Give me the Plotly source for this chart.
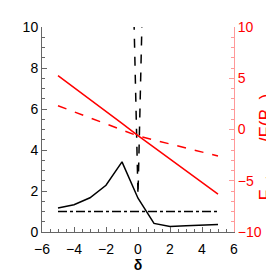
import plotly.graph_objects as go

delta = [-5, -4, -3, -2, -1, 0, 1, 2, 3, 4, 5]
black_solid = [1.17, 1.33, 1.67, 2.28, 3.42, 1.65, 0.42, 0.27, 0.30, 0.33, 0.37]
black_dashdot = [1.0] * 11
v_delta = [-0.25, 0.0, 0.25]
v_values = [10.3, 1.8, 10.3]
red_solid = [5.25, 4.1, 2.95, 1.8, 0.6, -0.6, -1.75, -2.9, -4.05, -5.2, -6.3]
red_dashed = [2.32, 1.73, 1.13, 0.53, -0.05, -0.63, -1.02, -1.41, -1.8, -2.2, -2.59]

x_ticks = [-6, -4, -2, 0, 2, 4, 6]
y_ticks = [0, 2, 4, 6, 8, 10]
y2_ticks = [-10, -5, 0, 5, 10]

fig = go.Figure()
fig.add_trace(go.Scatter(x=delta, y=black_solid, mode="lines",
                         line=dict(color="black", width=1.5)))
fig.add_trace(go.Scatter(x=delta, y=black_dashdot, mode="lines",
                         line=dict(color="black", width=1.5, dash="dashdot")))
fig.add_trace(go.Scatter(x=v_delta, y=v_values, mode="lines",
                         line=dict(color="black", width=1.5, dash="dash")))
fig.add_trace(go.Scatter(x=delta, y=red_solid, mode="lines", yaxis="y2",
                         line=dict(color="red", width=1.5)))
fig.add_trace(go.Scatter(x=delta, y=red_dashed, mode="lines", yaxis="y2",
                         line=dict(color="red", width=1.5, dash="dash")))

font = "Liberation Sans, Arial, sans-serif"
fig.update_layout(
    width=274, height=274,
    margin=dict(l=34, r=48, t=19, b=50),
    paper_bgcolor="white", plot_bgcolor="white",
    showlegend=False,
    font=dict(family=font, size=14, color="black"),
    xaxis=dict(range=[-6, 6], tickvals=x_ticks, ticks="inside", ticklen=5,
               tickcolor="#666", showline=True, linecolor="#666", linewidth=1,
               showgrid=False, zeroline=False, ticklabelstandoff=4,
               minor=dict(dtick=0.5, ticks="inside", ticklen=3, tickcolor="#666", showgrid=False),
               title=dict(text="<b>δ</b>", font=dict(size=14), standoff=0),
               tickfont=dict(size=14)),
    yaxis=dict(range=[0, 10], tickvals=y_ticks, ticks="inside", ticklen=5,
               tickcolor="#666", showline=True, linecolor="#666", linewidth=1,
               showgrid=False, zeroline=False,
               minor=dict(dtick=0.5, ticks="inside", ticklen=3, tickcolor="#666", showgrid=False),
               tickfont=dict(size=14)),
    yaxis2=dict(range=[-10, 10], tickvals=y2_ticks, overlaying="y", side="right",
                ticks="inside", ticklen=5, tickcolor="#ff9999",
                showline=True, linecolor="#ff9999", linewidth=1,
                showgrid=False, zeroline=False,
                minor=dict(dtick=1, ticks="inside", ticklen=3, tickcolor="#ff9999", showgrid=False),
                tickfont=dict(size=14, color="red")),
)
fig.add_annotation(text="F<sub>mix, ave</sub>/F(B<sub>w</sub>)", xref="paper", yref="paper",
                   x=1, y=0.415, xshift=20, showarrow=False, textangle=-90,
                   font=dict(size=18, color="red"), xanchor="left", yanchor="middle")
fig.write_html("out.html")
